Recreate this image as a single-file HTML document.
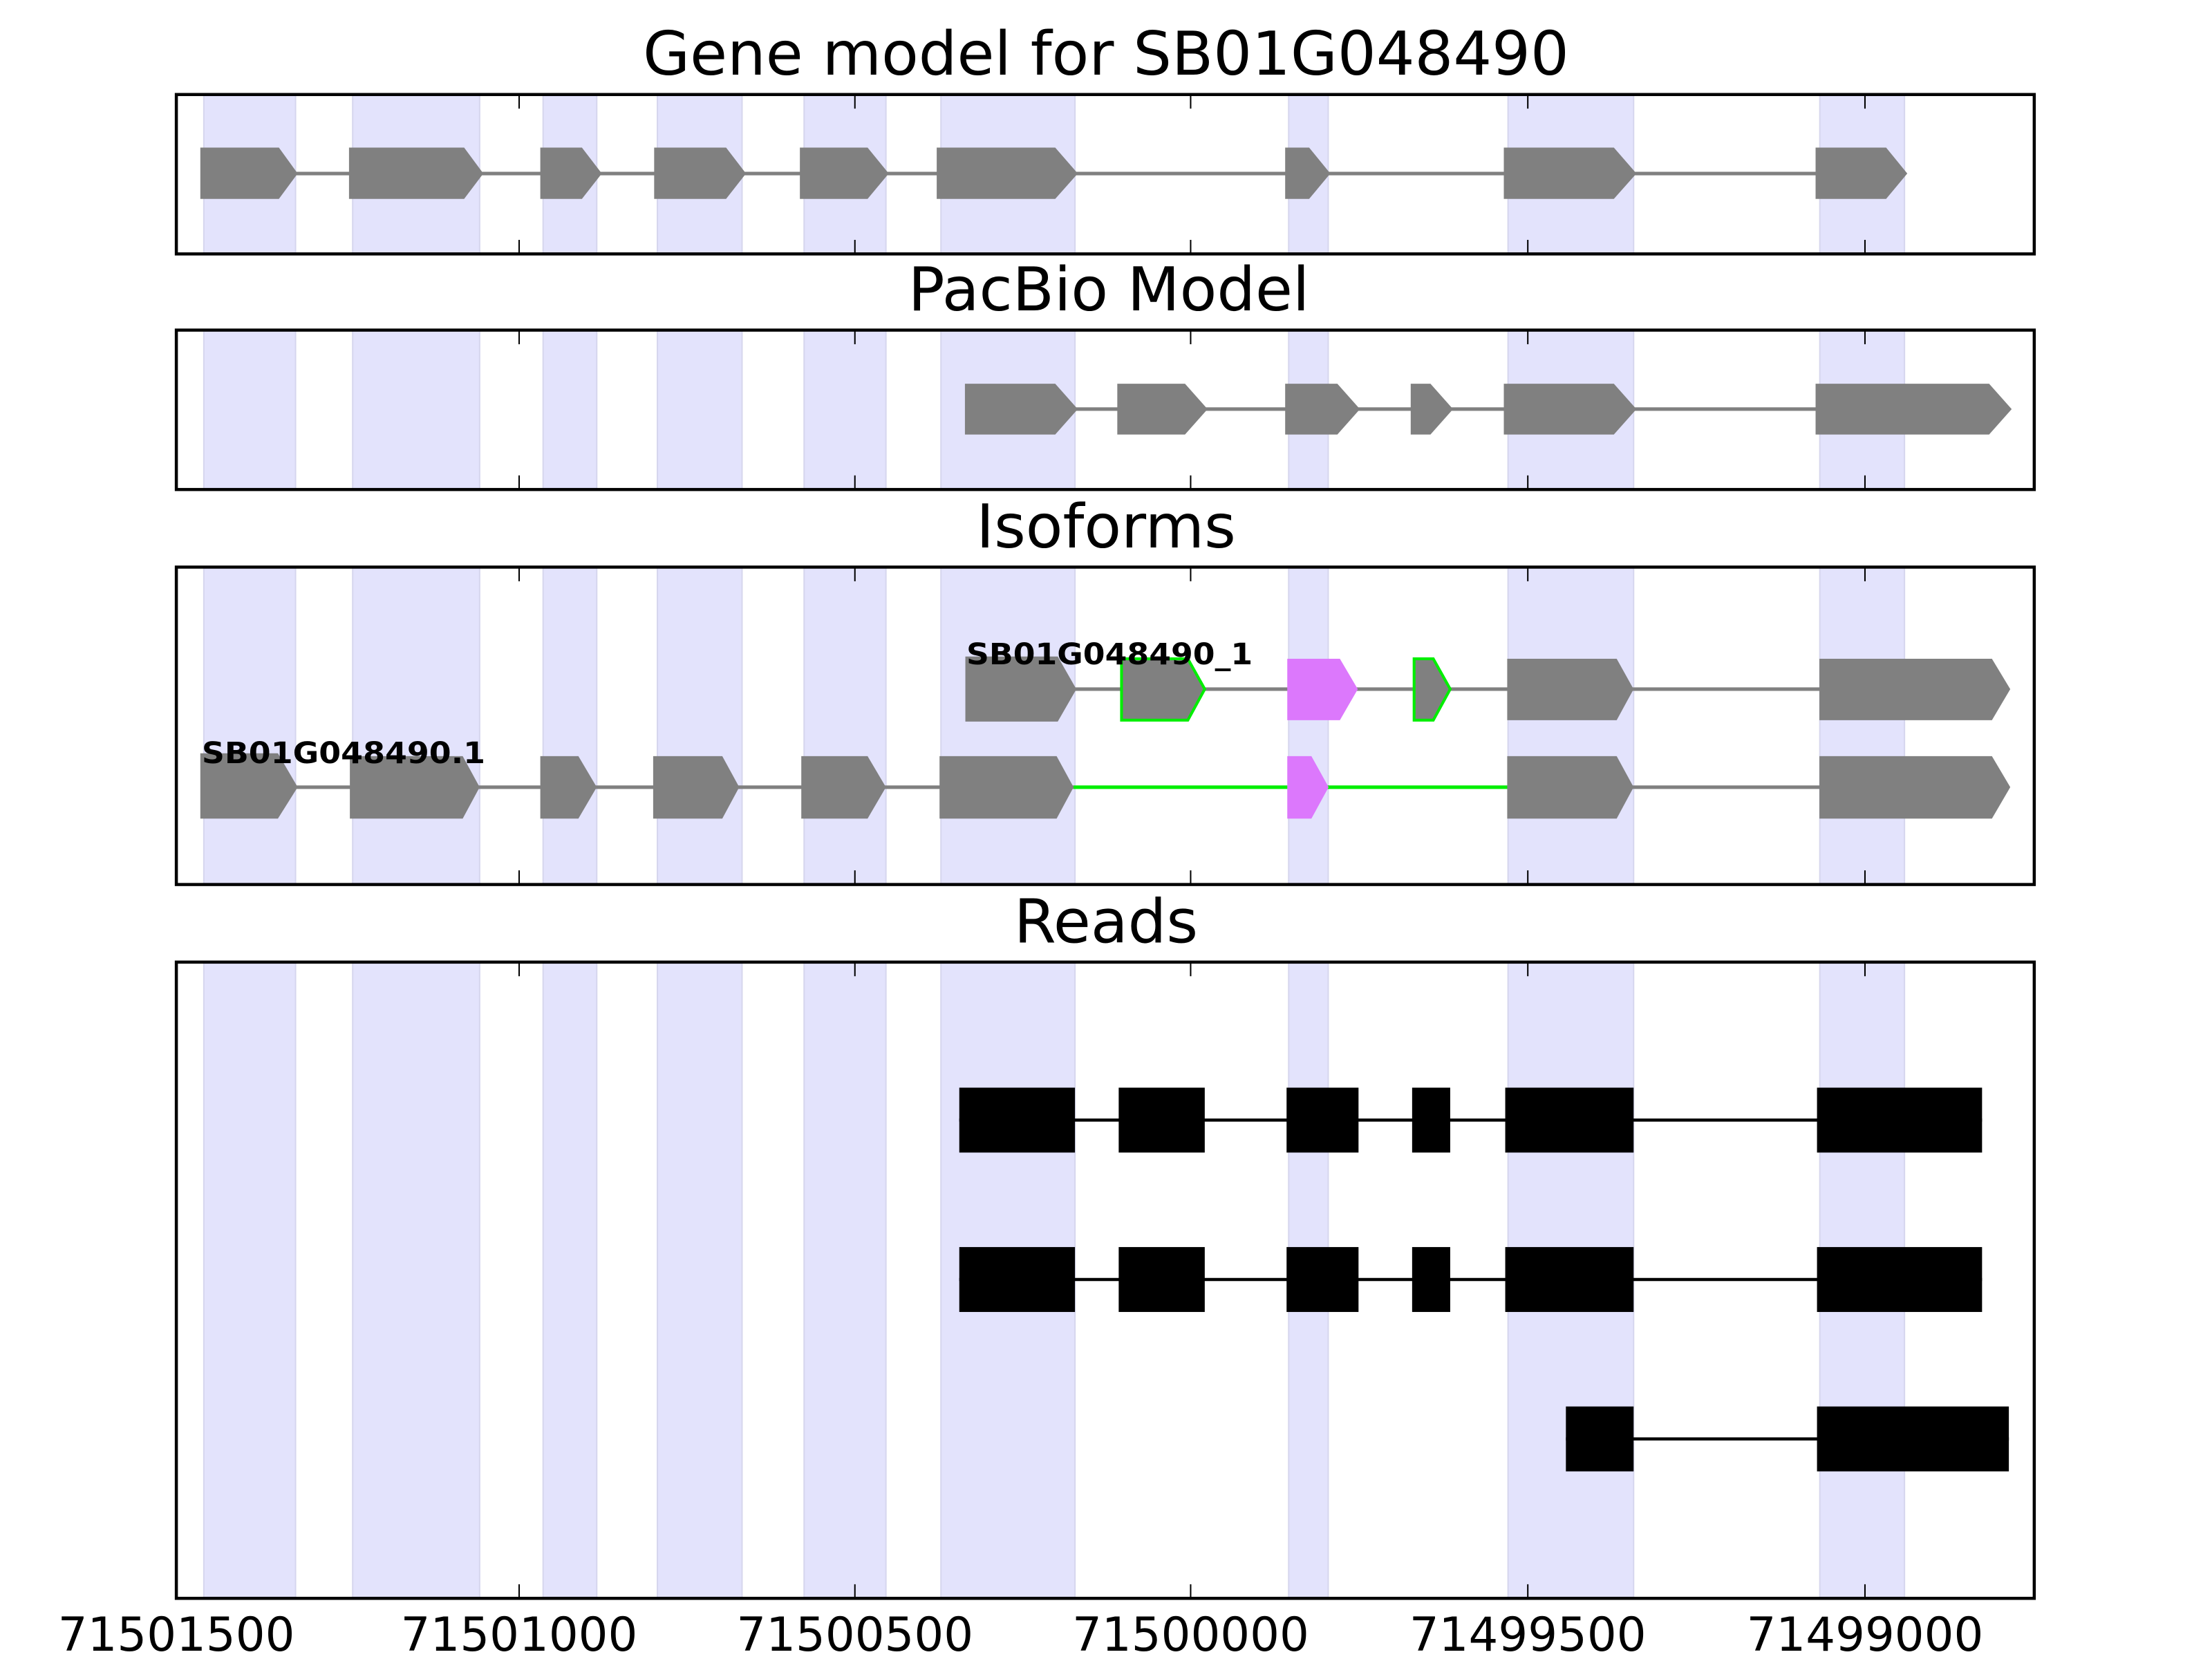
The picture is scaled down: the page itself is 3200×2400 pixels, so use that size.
<!DOCTYPE html>
<html><head><meta charset="utf-8"><style>html,body{margin:0;padding:0;background:#fff;width:3200px;height:2400px;overflow:hidden}svg{display:block}</style></head><body>
<svg xmlns="http://www.w3.org/2000/svg" width="3200" height="2400" viewBox="0 0 1568 1176" font-family="'DejaVu Sans','Liberation Sans',sans-serif">
<defs>
<g id="bands">
<rect x="144.5" width="65" height="2000" />
<rect x="250" width="90" height="2000" />
<rect x="385" width="38" height="2000" />
<rect x="466" width="60" height="2000" />
<rect x="570" width="58" height="2000" />
<rect x="667" width="95" height="2000" />
<rect x="913.5" width="28" height="2000" />
<rect x="1069" width="89" height="2000" />
<rect x="1290" width="60" height="2000" />
</g>
<clipPath id="c1"><rect x="125" y="67" width="1317" height="113"/></clipPath>
<clipPath id="c2"><rect x="125" y="234" width="1317" height="113"/></clipPath>
<clipPath id="c3"><rect x="125" y="402" width="1317" height="225"/></clipPath>
<clipPath id="c4"><rect x="125" y="682" width="1317" height="451"/></clipPath>
</defs>
<rect width="1568" height="1176" fill="#fff"/>
<g fill="#e3e3fc" stroke="#d6d6ee" stroke-width="1">
<g clip-path="url(#c1)"><use href="#bands"/></g>
<g clip-path="url(#c2)"><use href="#bands"/></g>
<g clip-path="url(#c3)"><use href="#bands"/></g>
<g clip-path="url(#c4)"><use href="#bands"/></g>
</g>

<g stroke="#808080" stroke-width="2.5"><line x1="200" y1="123" x2="1340" y2="123"/></g>
<g fill="#808080">
<polygon points="142,104.6 197.7,104.6 211,123 197.7,141 142,141"/>
<polygon points="247.4,104.6 329,104.6 342.6,123 329,141 247.4,141"/>
<polygon points="383,104.6 412.5,104.6 426.6,123 412.5,141 383,141"/>
<polygon points="463.7,104.6 514.7,104.6 528.8,123 514.7,141 463.7,141"/>
<polygon points="567,104.6 615,104.6 630,123 615,141 567,141"/>
<polygon points="664,104.6 748,104.6 764,123 748,141 664,141"/>
<polygon points="911,104.6 928,104.6 943,123 928,141 911,141"/>
<polygon points="1066,104.6 1144,104.6 1160,123 1144,141 1066,141"/>
<polygon points="1287,104.6 1337,104.6 1352,123 1337,141 1287,141"/>
</g>

<g stroke="#808080" stroke-width="2.5"><line x1="750" y1="290" x2="1300" y2="290"/></g>
<g fill="#808080">
<polygon points="684,272 748,272 764,290 748,308 684,308"/>
<polygon points="792,272 840,272 856,290 840,308 792,308"/>
<polygon points="911,272 948,272 964,290 948,308 911,308"/>
<polygon points="1000,272 1014,272 1030,290 1014,308 1000,308"/>
<polygon points="1066,272 1144,272 1160,290 1144,308 1066,308"/>
<polygon points="1287,272 1410,272 1426,290 1410,308 1287,308"/>
</g>

<g stroke="#808080" stroke-width="2.5"><line x1="760" y1="488.5" x2="1300" y2="488.5"/></g>
<g fill="#808080">
<polygon points="684.3,465.4 749.8,465.4 763,488.5 749.8,511.5 684.3,511.5"/>
<polygon points="795,467 842,467 854,488.5 842,510.5 795,510.5" stroke="#00ee00" stroke-width="2"/>
<polygon points="1002.4,467 1016,467 1028,488.5 1016,510.5 1002.4,510.5" stroke="#00ee00" stroke-width="2"/>
<polygon points="1068.4,467 1146,467 1158,488.5 1146,510.5 1068.4,510.5"/>
<polygon points="1289.7,467 1412,467 1425,488.5 1412,510.5 1289.7,510.5"/>
</g>
<polygon points="912.5,467 949.8,467 962.5,488.5 949.8,510.5 912.5,510.5" fill="#dc78fc"/>

<g stroke="#808080" stroke-width="2.5"><line x1="200" y1="558" x2="761" y2="558"/><line x1="1150" y1="558" x2="1300" y2="558"/></g>
<g stroke="#00ee00" stroke-width="2.5"><line x1="761" y1="558" x2="913" y2="558"/><line x1="940" y1="558" x2="1070" y2="558"/></g>
<g fill="#808080">
<polygon points="142,534 197,534 211,558 197,580.3 142,580.3"/>
<polygon points="248,536 328,536 340,558 328,580.3 248,580.3"/>
<polygon points="383,536 410,536 423,558 410,580.3 383,580.3"/>
<polygon points="463,536 512,536 524,558 512,580.3 463,580.3"/>
<polygon points="568,536 615,536 628,558 615,580.3 568,580.3"/>
<polygon points="666,536 749,536 761,558 749,580.3 666,580.3"/>
<polygon points="1068.4,536 1146,536 1158,558 1146,580.3 1068.4,580.3"/>
<polygon points="1289.7,536 1412,536 1425,558 1412,580.3 1289.7,580.3"/>
</g>
<polygon points="912.5,536 929.6,536 941.8,558 929.6,580.3 912.5,580.3" fill="#dc78fc"/>
<g font-weight="bold" font-size="21" fill="#000">
<text x="143" y="541" textLength="201" lengthAdjust="spacingAndGlyphs">SB01G048490.1</text>
<text x="685" y="471" textLength="203" lengthAdjust="spacingAndGlyphs">SB01G048490_1</text>
</g>

<g stroke="#000" stroke-width="2.2">
<line x1="680" y1="794" x2="1405" y2="794"/>
<line x1="680" y1="907" x2="1405" y2="907"/>
<line x1="1110" y1="1020" x2="1424" y2="1020"/>
</g>
<g fill="#000">
<rect x="680" y="771" width="82" height="46"/><rect x="793" y="771" width="61" height="46"/><rect x="912" y="771" width="51" height="46"/><rect x="1001" y="771" width="27" height="46"/><rect x="1067" y="771" width="91" height="46"/><rect x="1288" y="771" width="117" height="46"/>
<rect x="680" y="884" width="82" height="46"/><rect x="793" y="884" width="61" height="46"/><rect x="912" y="884" width="51" height="46"/><rect x="1001" y="884" width="27" height="46"/><rect x="1067" y="884" width="91" height="46"/><rect x="1288" y="884" width="117" height="46"/>
<rect x="1110" y="997" width="48" height="46"/><rect x="1288" y="997" width="136" height="46"/>
</g>

<g fill="none" stroke="#000" stroke-width="2.2">
<rect x="125" y="67" width="1317" height="113"/>
<rect x="125" y="234" width="1317" height="113"/>
<rect x="125" y="402" width="1317" height="225"/>
<rect x="125" y="682" width="1317" height="451"/>
</g>
<g stroke="#000" stroke-width="1">
<path d="M368,67v10M606,67v10M844,67v10M1083,67v10M1322,67v10M368,180v-10M606,180v-10M844,180v-10M1083,180v-10M1322,180v-10"/>
<path d="M368,234v10M606,234v10M844,234v10M1083,234v10M1322,234v10M368,347v-10M606,347v-10M844,347v-10M1083,347v-10M1322,347v-10"/>
<path d="M368,402v10M606,402v10M844,402v10M1083,402v10M1322,402v10M368,627v-10M606,627v-10M844,627v-10M1083,627v-10M1322,627v-10"/>
<path d="M368,682v10M606,682v10M844,682v10M1083,682v10M1322,682v10M368,1133v-10M606,1133v-10M844,1133v-10M1083,1133v-10M1322,1133v-10"/>
</g>

<g font-size="43" text-anchor="middle" fill="#000">
<text x="784" y="53">Gene model for SB01G048490</text>
<text x="786" y="220">PacBio Model</text>
<text x="784" y="388">Isoforms</text>
<text x="784" y="668">Reads</text>
</g>
<g font-size="33" text-anchor="middle" fill="#000">
<text x="125" y="1170">71501500</text>
<text x="368" y="1170">71501000</text>
<text x="606" y="1170">71500500</text>
<text x="844" y="1170">71500000</text>
<text x="1083" y="1170">71499500</text>
<text x="1322" y="1170">71499000</text>
</g>
</svg>
</body></html>
